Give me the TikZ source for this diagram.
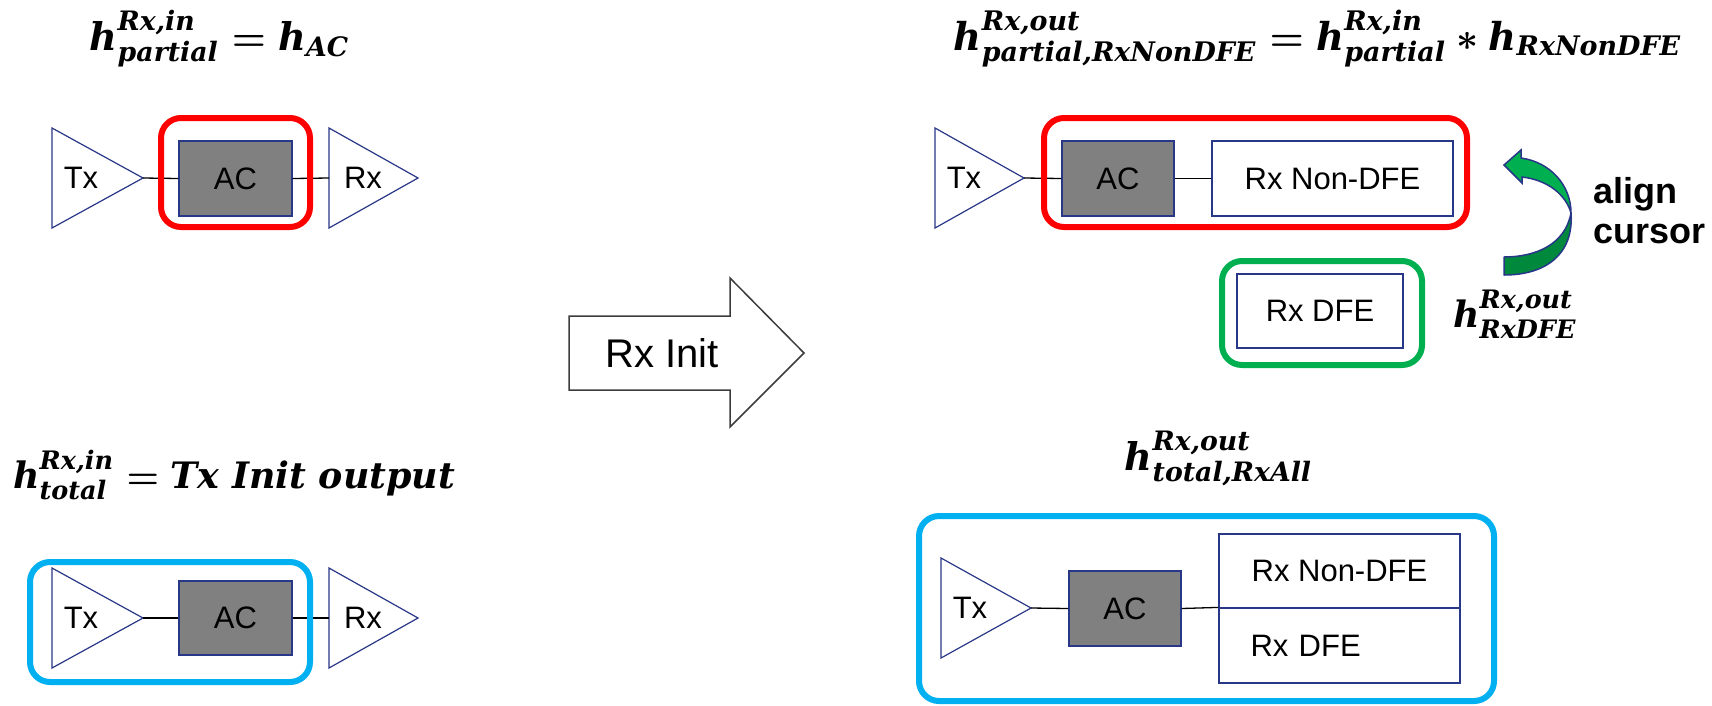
\documentclass[tikz,border=0pt]{standalone}
\usepackage{amsmath}
\usepackage{fontspec}
\setmainfont{Liberation Sans}
\newfontfamily\fmlfam{DejaVu Serif}
\usepackage{graphicx}
\definecolor{navy}{RGB}{40,55,135}
\definecolor{acgray}{RGB}{128,128,128}
\definecolor{hlred}{RGB}{255,0,0}
\definecolor{hlgreen}{RGB}{0,176,80}
\definecolor{hlblue}{RGB}{0,176,240}
\definecolor{arrgreen}{RGB}{0,176,80}
\definecolor{arrdark}{RGB}{0,136,60}
\definecolor{arrline}{RGB}{40,55,135}
\definecolor{initline}{RGB}{60,60,60}
\newcommand\lblfont{\fontsize{31}{37}\selectfont}
\newcommand\initfont{\fontsize{40}{48}\selectfont}
\newcommand\alignfont{\fontsize{36}{40}\selectfont\bfseries}
\newcommand\fm[1]{\text{\fmlfam\bfseries\itshape #1}}
\tikzset{
  tri/.style={draw=navy, line width=1.2pt, fill=white, line join=miter},
  acbox/.style={draw=navy, fill=acgray, line width=1.2pt, inner sep=0pt, font=\lblfont},
  wbox/.style={draw=navy, fill=white, line width=1.2pt, inner sep=0pt, font=\lblfont},
  wire/.style={draw=black, line width=1.3pt},
  hl/.style={line width=6pt, rounded corners=20pt},
  lbl/.style={font=\lblfont, inner sep=0pt},
  formula/.style={inner sep=0pt}
}
\begin{document}
\begin{tikzpicture}[x=1pt,y=-1pt]
\useasboundingbox (0,0) rectangle (1712,705);

% ---------- top left ----------
\node[formula, anchor=base] (f1) at (220,50)
  {\resizebox{260pt}{!}{\boldmath$\fm{h}^{\fm{Rx,in}}_{\fm{partial}}=\fm{h}_{\fm{AC}}$}};
\coordinate (t1tip) at (143,178);
\coordinate (r1in) at (329,178);
\draw[tri] (52,128) -- (t1tip) -- (52,228) -- cycle;
\draw[tri] (r1in) -- (329,128) -- (418,178) -- (329,228) -- cycle;
\node[lbl] (t1) at (81,178) {Tx};
\node[lbl] (r1) at (363,178) {Rx};
\node[acbox, minimum width=113pt, minimum height=75pt] (ac1) at (235.5,178.5) {AC};
\draw[wire] (t1tip) -- (ac1.west);
\draw[wire] (ac1.east) -- (r1in);
\draw[hl, draw=hlred] (161,118) rectangle (310,227);

% ---------- bottom left ----------
\node[formula, anchor=base west] (f3) at (13,488)
  {\resizebox{442pt}{!}{\boldmath$\fm{h}^{\fm{Rx,in}}_{\fm{total}}=\fm{Tx Init output}$}};
\coordinate (t2tip) at (143,618);
\coordinate (r2in) at (329,618);
\draw[tri] (52,568) -- (t2tip) -- (52,668) -- cycle;
\draw[tri] (r2in) -- (329,568) -- (418,618) -- (329,668) -- cycle;
\node[lbl] (t2) at (81,618) {Tx};
\node[lbl] (r2) at (363,618) {Rx};
\node[acbox, minimum width=113pt, minimum height=74pt] (ac2) at (235.5,618) {AC};
\draw[wire] (t2tip) -- (ac2.west);
\draw[wire] (ac2.east) -- (r2in);
\draw[hl, draw=hlblue] (30,562) rectangle (310,682);

% ---------- Rx Init arrow ----------
\draw[line width=1.5pt, draw=initline, fill=white, line join=miter]
  (569,316) -- (730,316) -- (730,278) -- (804,353) -- (730,427) -- (730,390) -- (569,390) -- cycle;
\node[font=\initfont, inner sep=0pt] (init) at (662,353) {Rx Init};

% ---------- top right ----------
\node[formula, anchor=base] (f2) at (1318,50)
  {\resizebox{728pt}{!}{\boldmath$\fm{h}^{\fm{Rx,out}}_{\fm{partial,RxNonDFE}}=\fm{h}^{\fm{Rx,in}}_{\fm{partial}}\ast \fm{h}_{\fm{RxNonDFE}}$}};
\coordinate (t3tip) at (1024,178);
\draw[tri] (935,128) -- (t3tip) -- (935,228) -- cycle;
\node[lbl] (t3) at (964,178) {Tx};
\node[acbox, minimum width=112pt, minimum height=75pt] (ac3) at (1118,178.5) {AC};
\node[wbox, minimum width=241pt, minimum height=75pt] (nd3) at (1332.5,178.5) {Rx Non-DFE};
\draw[wire] (t3tip) -- (ac3.west);
\draw[wire] (ac3.east) -- (nd3.west);
\draw[hl, draw=hlred] (1044,118) rectangle (1467,227);

\node[wbox, minimum width=166pt, minimum height=74pt] (dfe3) at (1320,311) {Rx DFE};
\draw[hl, draw=hlgreen] (1222,261) rectangle (1422,365);
\node[formula, anchor=base west] (f5) at (1453,327)
  {\resizebox{124pt}{!}{\boldmath$\fm{h}^{\fm{Rx,out}}_{\fm{RxDFE}}$}};

% curved green arrow
\draw[fill=arrdark, draw=arrline, line width=1.5pt, line join=round]
  (1504,257) .. controls (1535,257) and (1565,245) .. (1571,213)
  .. controls (1574,255) and (1545,275) .. (1504,275) -- cycle;
\draw[fill=arrgreen, draw=arrline, line width=1.5pt, line join=miter]
  (1571,213) .. controls (1571,185) and (1550,162) .. (1521,158)
  -- (1521,150) -- (1504,165) -- (1522,183) -- (1522,177)
  .. controls (1548,180) and (1566,195) .. (1571,213) -- cycle;
\node[font=\alignfont, align=left, anchor=base west, inner sep=0pt] (cur) at (1593,203) {align};
\node[font=\alignfont, anchor=base west, inner sep=0pt] (cur2) at (1593,243) {cursor};

% ---------- bottom right ----------
\node[formula, anchor=base] (f4) at (1219,470)
  {\resizebox{188pt}{!}{\boldmath$\fm{h}^{\fm{Rx,out}}_{\fm{total,RxAll}}$}};
\coordinate (t4tip) at (1031,608);
\draw[tri] (941,558) -- (t4tip) -- (941,658) -- cycle;
\node[lbl] (t4) at (970,608) {Tx};
\node[acbox, minimum width=112pt, minimum height=75pt] (ac4) at (1125,608.5) {AC};
\node[wbox, minimum width=241pt, minimum height=74pt] (nd4) at (1339.5,571) {Rx Non-DFE};
\node[wbox, minimum width=241pt, minimum height=75pt, text width=178pt, align=left] (dfe4) at (1339.5,645.5) {Rx DFE};
\draw[wire] (t4tip) -- (ac4.west);
\draw[wire] (ac4.east) -- (dfe4.north west);
\draw[hl, draw=hlblue] (919,516) rectangle (1494,701);
\end{tikzpicture}
\end{document}
